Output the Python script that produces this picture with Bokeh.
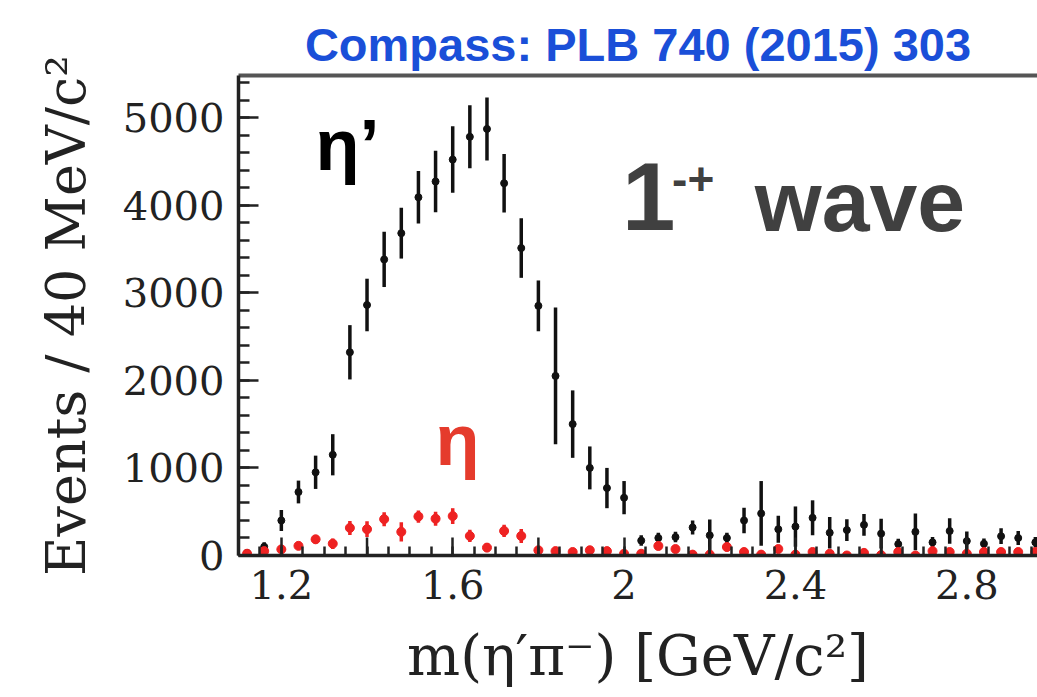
from bokeh.plotting import figure
from bokeh.models import (FixedTicker, CustomJSTickFormatter, LinearAxis, Label,
                          ColumnDataSource, Range1d)
from bokeh.embed import file_html
from bokeh.resources import INLINE

# ---------------- data ----------------
mass = [1.12, 1.16, 1.20, 1.24, 1.28, 1.32, 1.36, 1.40, 1.44, 1.48, 1.52, 1.56,
        1.60, 1.64, 1.68, 1.72, 1.76, 1.80, 1.84, 1.88, 1.92, 1.96, 2.00, 2.04,
        2.08, 2.12, 2.16, 2.20, 2.24, 2.28, 2.32, 2.36, 2.40, 2.44, 2.48, 2.52,
        2.56, 2.60, 2.64, 2.68, 2.72, 2.76, 2.80, 2.84, 2.88, 2.92, 2.96]
etaprime = [30, 100, 400, 725, 950, 1150, 2320, 2860, 3380, 3680, 4090, 4270,
            4520, 4780, 4870, 4250, 3510, 2850, 2050, 1500, 1000, 770, 660, 170,
            200, 210, 320, 230, 200, 400, 480, 300, 330, 430, 260, 290,
            350, 250, 130, 270, 150, 280, 165, 135, 220, 200, 150]
etaprime_err = [30, 50, 120, 130, 190, 235, 310, 300, 315, 290, 300, 350,
                380, 360, 360, 335, 340, 290, 780, 385, 245, 230, 190, 60,
                60, 60, 80, 180, 60, 145, 370, 155, 230, 200, 180, 125,
                125, 170, 60, 210, 60, 145, 110, 60, 90, 80, 60]
eta = [20, 50, 70, 110, 185, 135, 315, 300, 415, 270, 445, 420,
       450, 223, 90, 280, 223, 60, 50, 40, 60, 50, 20, 20,
       109, 74, 10, 10, 97, 40, 10, 74, 10, 40, 20, 0,
       30, 5, 40, 0, 50, 40, 20, 40, 40, 40, 40]
eta_err = [20, 30, 40, 40, 50, 60, 80, 90, 80, 110, 70, 80,
           90, 70, 50, 70, 80, 30, 30, 25, 30, 30, 20, 20,
           50, 40, 10, 10, 50, 20, 20, 40, 10, 30, 20, 20,
           20, 10, 20, 20, 20, 20, 20, 20, 20, 20, 20]

x_label_ticks = [1.2, 1.6, 2.0, 2.4, 2.8]
x_mid_ticks = [1.4, 1.8, 2.2, 2.6]
y_ticks = [0, 1000, 2000, 3000, 4000, 5000]

title_text = "Compass: PLB 740 (2015) 303"
y_title = "Events / 40 MeV/c²"
x_title = "m(η′π⁻) [GeV/c²]"

# ---------------- figure ----------------
Y_TOP = 5480
p = figure(width=1037, height=697, x_range=Range1d(1.1, 2.965), y_range=Range1d(0, Y_TOP),
           output_backend="svg", toolbar_location=None,
           min_border_left=238, min_border_right=0, min_border_top=75, min_border_bottom=142)
p.outline_line_color = None
p.xgrid.visible = False
p.ygrid.visible = False
p.background_fill_color = "white"
p.border_fill_color = "white"

p.title.text = title_text
p.title.text_font = "Liberation Sans"
p.title.text_font_style = "bold"
p.title.text_font_size = "47px"
p.title.text_color = "#1a4fd8"
p.title.align = "center"
p.title.offset = -10
p.title.standoff = 10

src_b = ColumnDataSource(dict(x=mass, y=etaprime,
                              lo=[v - e for v, e in zip(etaprime, etaprime_err)],
                              hi=[v + e for v, e in zip(etaprime, etaprime_err)]))
src_r = ColumnDataSource(dict(x=mass, y=eta,
                              lo=[v - e for v, e in zip(eta, eta_err)],
                              hi=[v + e for v, e in zip(eta, eta_err)]))

p.segment(x0="x", y0="lo", x1="x", y1="hi", source=src_b, line_color="#111111", line_width=3.5)
p.scatter(x="x", y="y", source=src_b, marker="circle", size=7, fill_color="#111111", line_color="#111111")
p.segment(x0="x", y0="lo", x1="x", y1="hi", source=src_r, line_color="#ee2222", line_width=3.5)
p.scatter(x="x", y="y", source=src_r, marker="circle", size=9, fill_color="#ee2222", line_color="#ee2222")

# unlabeled long ticks of the x axis (every 0.2 between labelled ones), 18 px tall
px_per_unit = 480.0 / Y_TOP
p.segment(x0=x_mid_ticks, y0=[0] * len(x_mid_ticks), x1=x_mid_ticks,
          y1=[18 / px_per_unit] * len(x_mid_ticks), line_color="#222222", line_width=2.5)

# ---------------- axes ----------------
xa = p.xaxis[0]
xa.ticker = FixedTicker(ticks=x_label_ticks, minor_ticks=[round(1.1 + 0.05 * i, 2) for i in range(38)])
xa.formatter = CustomJSTickFormatter(code="return String(Math.round(tick * 10) / 10);")
ya = p.yaxis[0]
ya.ticker = FixedTicker(ticks=y_ticks, minor_ticks=[200 * i for i in range(28)])

for ax in (xa, ya):
    ax.axis_line_width = 3.5
    ax.axis_line_color = "#222222"
    ax.major_tick_out = 0
    ax.minor_tick_out = 0
    ax.major_tick_line_width = 2.5
    ax.minor_tick_line_width = 2.5
    ax.major_tick_line_color = "#222222"
    ax.minor_tick_line_color = "#222222"
    ax.major_label_text_font = "DejaVu Serif"
    ax.major_label_text_font_size = "40px"
    ax.major_label_text_color = "#222222"
    ax.axis_label_text_font = "DejaVu Serif"
    ax.axis_label_text_font_style = "normal"
    ax.axis_label_text_color = "#222222"

xa.major_tick_in = 18
xa.minor_tick_in = 9
xa.major_label_standoff = 14
xa.axis_label = x_title
xa.axis_label_text_font_size = "56px"
xa.axis_label_standoff = 21

ya.major_tick_in = 20
ya.minor_tick_in = 11
ya.major_label_standoff = 14
ya.axis_label = y_title
ya.axis_label_text_font_size = "54px"
ya.axis_label_standoff = 22

top = LinearAxis(ticker=FixedTicker(ticks=[], minor_ticks=[]),
                 major_tick_line_color=None, minor_tick_line_color=None,
                 axis_line_width=4, axis_line_color="#555555")
p.add_layout(top, "above")

# ---------------- texts inside the frame ----------------
def lab(x, y, text, **kw):
    p.add_layout(Label(x=x, y=y, text=text, x_units="data", y_units="data", **kw))

lab(1.2797, 4681, "η’", text_font="Liberation Sans", text_font_style="bold",
    text_font_size="72px", text_color="#000000", text_baseline="alphabetic")
lab(1.56, 1324, "η", text_font="Liberation Sans", text_font_style="bold",
    text_font_size="72px", text_color="#e53b2c", text_baseline="alphabetic")
lab(1.995, 4094, "1", text_font="Liberation Sans", text_font_style="bold",
    text_font_size="96px", text_color="#404040", text_baseline="alphabetic")
lab(2.112, 4304, "-+", text_font="Liberation Sans", text_font_style="bold",
    text_font_size="46px", text_color="#404040", text_baseline="alphabetic")
lab(2.305, 4046, "wave", text_font="Liberation Sans", text_font_style="bold",
    text_font_size="86px", text_color="#404040", text_baseline="alphabetic")

open("out.html", "w").write(file_html(p, INLINE))
